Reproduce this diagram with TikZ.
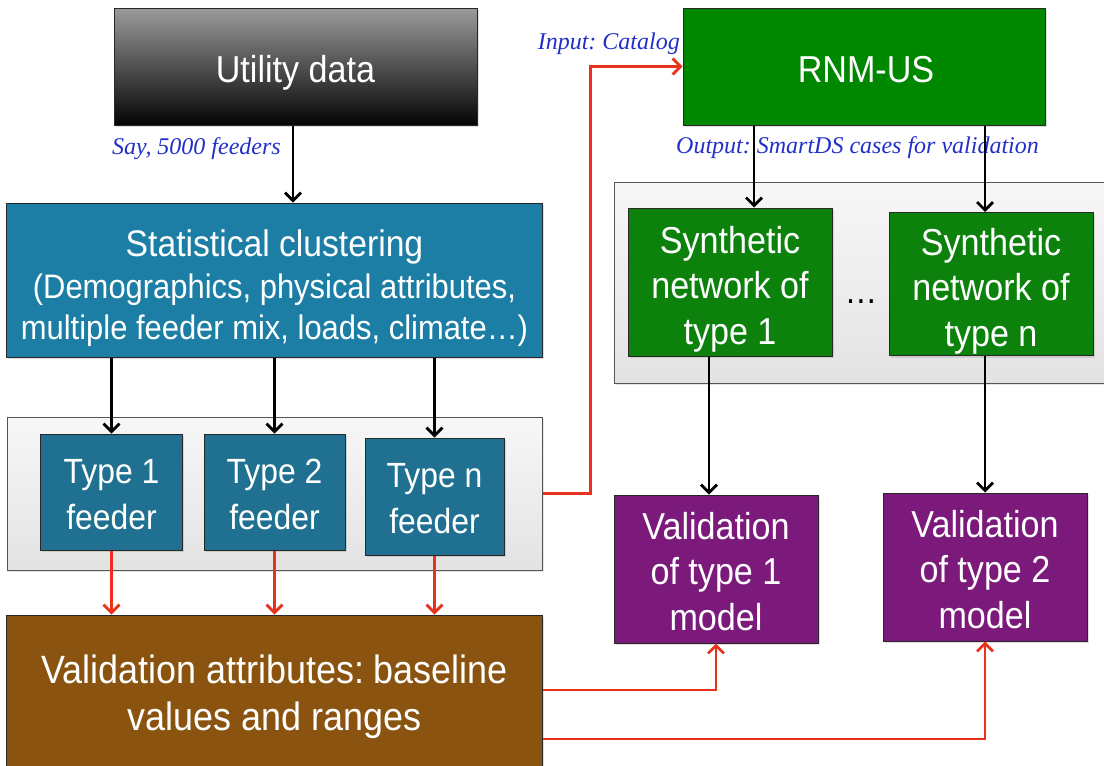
\documentclass[tikz,border=0pt]{standalone}
\usepackage{fontspec}
\setmainfont[FakeStretch=0.91]{Liberation Sans}
\newfontfamily\labelfont{Liberation Serif}
\usetikzlibrary{arrows.meta,shadows,calc}
\frenchspacing
\definecolor{statblue}{RGB}{28,126,164}
\definecolor{typeblue}{RGB}{32,113,145}
\definecolor{rnmgreen}{RGB}{0,135,0}
\definecolor{syngreen}{RGB}{12,130,12}
\definecolor{valpurple}{RGB}{124,26,124}
\definecolor{attrbrown}{RGB}{138,84,16}
\definecolor{arrred}{RGB}{232,50,28}
\definecolor{lblblue}{RGB}{35,48,200}
\definecolor{utiltop}{RGB}{155,155,155}
\definecolor{utilmid}{RGB}{80,80,80}
\definecolor{utilbot}{RGB}{4,4,4}
\definecolor{boxedge}{RGB}{40,40,40}
\definecolor{contedge}{RGB}{85,85,85}
\newcommand{\mlines}[1]{\renewcommand{\arraystretch}{1}\begin{tabular}[t]{@{}c@{}}#1\end{tabular}}
\begin{document}
\begin{tikzpicture}[x=1pt,y=-1pt,
  box/.style={draw=boxedge, line width=1pt, rectangle, inner sep=0pt,
    drop shadow={opacity=0.25, shadow xshift=1.5pt, shadow yshift=-2pt}},
  cont/.style={draw=contedge, line width=1pt, rectangle, inner sep=0pt,
    top color=gray!6, bottom color=gray!22,
    drop shadow={opacity=0.2, shadow xshift=1.5pt, shadow yshift=-2pt}},
  txt/.style={text=white, inner sep=0pt, anchor=base},
  blk/.style={line width=2.8pt, black, -{Straight Barb[length=8pt,width=16pt,line width=2.8pt]}},
  redarr/.style={line width=2.8pt, arrred, -{Straight Barb[length=8pt,width=16pt,line width=2.8pt]}},
  lbl/.style={font=\labelfont\itshape\fontsize{24}{28}\selectfont, text=lblblue, inner sep=0pt}
]
\useasboundingbox (0,0) rectangle (1104,766);
\fill[white] (0,0) rectangle (1104,766);

% containers
\node[cont, minimum width=535, minimum height=153] (cont1) at (274.5,493.5) {};
\node[cont, minimum width=496, minimum height=201] (cont2) at (862,282.5) {};

% top boxes
\node[box, top color=utiltop, bottom color=utilbot, middle color=utilmid, minimum width=363, minimum height=117] (util) at (295.5,66.5) {};
\node[txt, font=\fontsize{37.5}{45}\selectfont] (utiltxt) at (295.5,82) {Utility data};
\node[box, fill=rnmgreen, minimum width=362, minimum height=117] (rnm) at (864,66.5) {};
\node[txt, font=\fontsize{37.5}{45}\selectfont] (rnmtxt) at (866,82) {RNM-US};

% clustering
\node[box, fill=statblue, minimum width=536, minimum height=154] (stat) at (274.5,280) {};
\node[txt, font=\fontsize{34}{41.5}\selectfont] (stattxt) at (274.5,256.5)
  {\mlines{{\fontsize{37}{41.5}\selectfont Statistical clustering}\\(Demographics, physical attributes,\\multiple feeder mix, loads, climate…)}};

% type boxes
\node[box, fill=typeblue, minimum width=142, minimum height=116] (t1) at (111.5,492) {};
\node[box, fill=typeblue, minimum width=141, minimum height=116] (t2) at (274.5,492) {};
\node[box, fill=typeblue, minimum width=139, minimum height=117] (tn) at (434.5,496.5) {};
\node[txt, font=\fontsize{35}{46}\selectfont] (t1txt) at (111.5,483) {\mlines{Type 1\\feeder}};
\node[txt, font=\fontsize{35}{46}\selectfont] (t2txt) at (274.5,483) {\mlines{Type 2\\feeder}};
\node[txt, font=\fontsize{35}{46}\selectfont] (tntxt) at (434.5,487) {\mlines{Type n\\feeder}};

% validation attributes
\node[box, fill=attrbrown, minimum width=536, minimum height=154] (attr) at (274.5,692) {};
\node[txt, font=\fontsize{39.5}{47.5}\selectfont] (attrtxt) at (274.5,683) {\mlines{Validation attributes: baseline\\values and ranges}};

% synthetic boxes
\node[box, fill=syngreen, minimum width=204, minimum height=148] (syn1) at (730,282) {};
\node[box, fill=syngreen, minimum width=204, minimum height=143] (synn) at (991,284) {};
\node[txt, font=\fontsize{37.5}{45.5}\selectfont] (syn1txt) at (730,253) {\mlines{Synthetic\\network of\\type 1}};
\node[txt, font=\fontsize{37.5}{45.5}\selectfont] (synntxt) at (991,255) {\mlines{Synthetic\\network of\\type n}};
\node[inner sep=0pt, anchor=base, font=\fontsize{36}{40}\selectfont] (dots) at (861,303) {…};

% validation boxes
\node[box, fill=valpurple, minimum width=204, minimum height=148] (val1) at (716,569) {};
\node[box, fill=valpurple, minimum width=204, minimum height=148] (val2) at (985,567) {};
\node[txt, font=\fontsize{37.5}{45.5}\selectfont] (val1txt) at (716,539) {\mlines{Validation\\of type 1\\model}};
\node[txt, font=\fontsize{37.5}{45.5}\selectfont] (val2txt) at (985,537) {\mlines{Validation\\of type 2\\model}};

% labels
\node[lbl, anchor=base east] (say) at (281,154) {Say, 5000 feeders};
\node[lbl, anchor=base east] (inp) at (680,49) {Input: Catalog};
\node[lbl, anchor=base west] (outp) at (676,153) {Output: SmartDS cases for validation};

% black connectors
\draw[blk] (util.south -| 293,0) -- (stat.north -| 293,0);
\draw[blk] (stat.south -| t1.north) -- (t1.north);
\draw[blk] (stat.south -| t2.north) -- (t2.north);
\draw[blk] (stat.south -| tn.north) -- (tn.north);
\draw[blk] (rnm.south -| 754,0) -- (syn1.north -| 754,0);
\draw[blk] (rnm.south -| 985,0) -- (synn.north -| 985,0);
\draw[blk] (syn1.south -| 709,0) -- (val1.north -| 709,0);
\draw[blk] (synn.south -| val2.north) -- (val2.north);

% red connectors
\draw[redarr] (t1.south) -- (t1.south |- attr.north);
\draw[redarr] (t2.south) -- (t2.south |- attr.north);
\draw[redarr] (tn.south) -- (tn.south |- attr.north);
\draw[redarr] (cont1.east) -- ++(48,0) |- (rnm.west);
\draw[redarr] (attr.east |- 0,690) -| (val1.south);
\draw[redarr] (attr.east |- 0,739) -| (val2.south);
\end{tikzpicture}
\end{document}
